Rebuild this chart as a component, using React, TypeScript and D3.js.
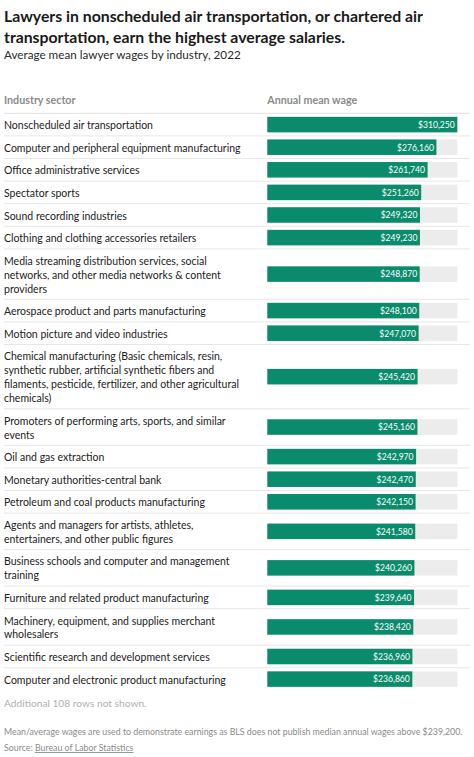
import React from "react";
import * as d3 from "d3";

const title = [
  "Lawyers in nonscheduled air transportation, or chartered air",
  "transportation, earn the highest average salaries.",
];
const subtitle = "Average mean lawyer wages by industry, 2022";
const headerLabel = "Industry sector";
const headerValue = "Annual mean wage";

const categories: string[] = [
  "Nonscheduled air transportation",
  "Computer and peripheral equipment manufacturing",
  "Office administrative services",
  "Spectator sports",
  "Sound recording industries",
  "Clothing and clothing accessories retailers",
  "Media streaming distribution services, social\nnetworks, and other media networks & content\nproviders",
  "Aerospace product and parts manufacturing",
  "Motion picture and video industries",
  "Chemical manufacturing (Basic chemicals, resin,\nsynthetic rubber, artificial synthetic fibers and\nfilaments, pesticide, fertilizer, and other agricultural\nchemicals)",
  "Promoters of performing arts, sports, and similar\nevents",
  "Oil and gas extraction",
  "Monetary authorities-central bank",
  "Petroleum and coal products manufacturing",
  "Agents and managers for artists, athletes,\nentertainers, and other public figures",
  "Business schools and computer and management\ntraining",
  "Furniture and related product manufacturing",
  "Machinery, equipment, and supplies merchant\nwholesalers",
  "Scientific research and development services",
  "Computer and electronic product manufacturing",
];

const wages: number[] = [
  310250, 276160, 261740, 251260, 249320, 249230, 248870, 248100, 247070,
  245420, 245160, 242970, 242470, 242150, 241580, 240260, 239640, 238420,
  236960, 236860,
];

const footnoteRows = "Additional 108 rows not shown.";
const note =
  "Mean/average wages are used to demonstrate earnings as BLS does not publish median annual wages above $239,200.";
const sourceLabel = "Source: ";
const sourceLink = "Bureau of Labor Statistics";

const FONT = "Lato, 'Noto Sans', sans-serif";

export default function App() {
  const W = 474;
  const H = 757;
  const left = 4;
  const tableTop = 113.3;
  const rowBase = 22.6;
  const lineH = 13.9;
  const barX0 = 267.3;
  const barX1 = 457.3;
  const barH = 15.5;

  const x = d3.scaleLinear().domain([0, d3.max(wages) as number]).range([barX0, barX1]);
  const fmt = d3.format("$,");

  const rows: { lines: string[]; value: number; y0: number; h: number }[] = [];
  let y = tableTop;
  categories.forEach((c, i) => {
    const lines = c.split("\n");
    const h = rowBase + (lines.length - 1) * lineH;
    rows.push({ lines, value: wages[i], y0: y, h });
    y += h;
  });

  return (
    <div style={{ position: "absolute", left: 0, top: 0, width: W, height: H, background: "#fff" }}>
      <svg width={W} height={H} style={{ display: "block", fontFamily: FONT }}>
        {title.map((t, i) => (
          <text key={i} x={left} y={22 + i * 21} fontSize={15.8} fontWeight={700} fill="#1a1a1a">
            {t}
          </text>
        ))}
        <text x={left} y={58.5} fontSize={11.7} fill="#2a2a2a">
          {subtitle}
        </text>
        <text x={left} y={104} fontSize={10.7} fontWeight={700} fill="#8a8a8a">
          {headerLabel}
        </text>
        <text x={barX0} y={104} fontSize={10.7} fontWeight={700} fill="#8a8a8a">
          {headerValue}
        </text>
        <line x1={left} x2={470} y1={tableTop} y2={tableTop} stroke="#e2e2e2" strokeWidth={1} />
        {rows.map((r, i) => {
          const cy = r.y0 + r.h / 2;
          return (
            <g key={i}>
              {i < rows.length - 1 && (
                <line x1={left} x2={470} y1={r.y0 + r.h} y2={r.y0 + r.h} stroke="#e6e6e6" strokeWidth={1} />
              )}
              {r.lines.map((l, j) => (
                <text key={j} x={left} y={r.y0 + 15.8 + j * lineH} fontSize={10.5} fill="#222">
                  {l}
                </text>
              ))}
              <rect x={barX0} y={cy - barH / 2} width={barX1 - barX0} height={barH} fill="#ececec" />
              <rect x={barX0} y={cy - barH / 2} width={x(r.value) - barX0} height={barH} fill="#0a8c6c" />
              <text
                x={x(r.value) - 2.5}
                y={cy + 3.3}
                fontSize={8.6}
                fill="#fff"
                textAnchor="end"
              >
                {fmt(r.value)}
              </text>
            </g>
          );
        })}
        <text x={left} y={707} fontSize={10.2} fill="#b0b0b0">
          {footnoteRows}
        </text>
        <text x={left} y={735} fontSize={8.8} fill="#8a8a8a">
          {note}
        </text>
        <text x={left} y={751} fontSize={8.8} fill="#8a8a8a">
          {sourceLabel}
          <tspan fill="#8a8a8a" textDecoration="underline">
            {sourceLink}
          </tspan>
        </text>
      </svg>
    </div>
  );
}
